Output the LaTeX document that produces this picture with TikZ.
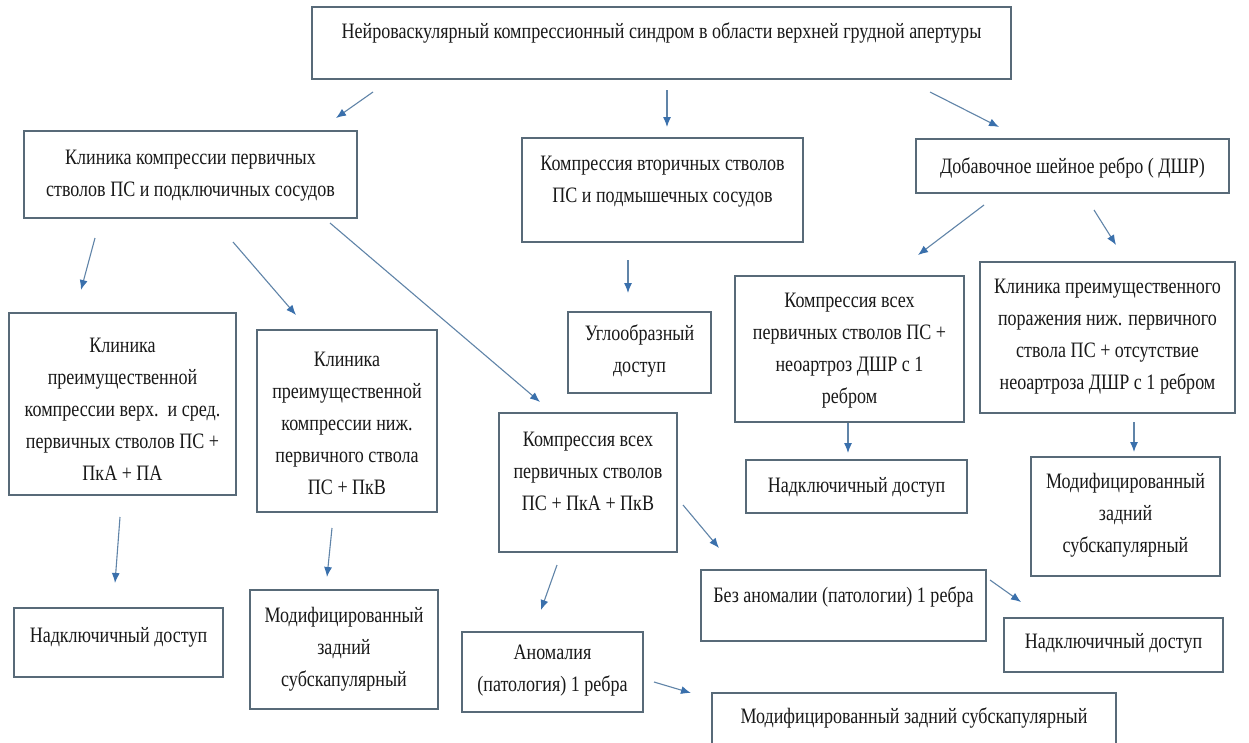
\documentclass[tikz,border=0pt]{standalone}
\usepackage{fontspec}
\setmainfont{Liberation Serif}[FakeStretch=0.82]
\usetikzlibrary{arrows.meta}

\definecolor{boxline}{RGB}{88,106,120}
\definecolor{arrowline}{RGB}{96,132,168}
\definecolor{arrowhead}{RGB}{58,112,172}

% \flowbox{name}{x1}{y1}{x2}{y2}{text centre y}{text}
\newcommand\flowbox[7]{%
  \node[flowrect, minimum width={(#4-#2)*1pt}, minimum height={(#5-#3)*1pt}]
    (#1) at ({(#2+#4)/2},{(#3+#5)/2}) {};
  \node[flowtext] (#1-t) at ({(#2+#4)/2},#6) {#7};
}
% \flowlink{name}{start}{end}
\newcommand\flowlink[3]{%
  \coordinate (#1-s) at (#2);
  \coordinate (#1-e) at (#3);
  \draw[flowarrow] (#1-s) -- (#1-e);
}

\begin{document}
\begin{tikzpicture}[x=1pt, y=-1pt,
  flowrect/.style={draw=boxline, line width=1.3pt, fill=white, inner sep=0pt, rectangle},
  flowtext/.style={align=center, inner sep=0pt, font=\fontsize{22}{32}\selectfont, text=black!90},
  flowarrow/.style={draw=arrowline, line width=1.1pt,
    -{Latex[length=10pt, width=8pt, color=arrowhead]}}]

\fill[white] (0,0) rectangle (1249,742);
\useasboundingbox (0,0) rectangle (1249,742);
\clip (0,0) rectangle (1249,742);

% first level
\flowbox{root}{312}{7}{1011}{79}{33}{Нейроваскулярный компрессионный синдром в области верхней грудной апертуры}

% second level
\flowbox{prim}{24}{131}{357}{218}{176}{Клиника компрессии первичных\\стволов ПС и подключичных сосудов}
\flowbox{sec}{522}{138}{803}{242}{182}{Компрессия вторичных стволов\\ПС и подмышечных сосудов}
\flowbox{rib}{916}{139}{1229}{193}{168}{Добавочное шейное ребро ( ДШР)}

% third level
\flowbox{upmid}{9}{313}{236}{495}{409}{Клиника\\преимущественной\\компрессии верх.\ \ и сред.\\первичных стволов ПС +\\ПкА + ПА}
\flowbox{low}{257}{330}{437}{512}{423}{Клиника\\преимущественной\\компрессии ниж.\\первичного ствола\\ПС + ПкВ}
\flowbox{angle}{568}{312}{711}{393}{351}{Углообразный\\доступ}
\flowbox{neo}{735}{276}{964}{422}{351}{Компрессия всех\\первичных стволов ПС +\\неоартроз ДШР с 1\\ребром}
\flowbox{noneo}{980}{262}{1235}{413}{337}{Клиника преимущественного\\поражения ниж. первичного\\ствола ПС + отсутствие\\неоартроза ДШР с 1 ребром}
\flowbox{all}{499}{413}{677}{552}{471}{Компрессия всех\\первичных стволов\\ПС + ПкА + ПкВ}

% access routes
\flowbox{supraA}{14}{608}{223}{677}{637}{Надключичный доступ}
\flowbox{subscA}{250}{590}{438}{709}{649}{Модифицированный\\задний\\субскапулярный}
\flowbox{anom}{462}{632}{643}{712}{671}{Аномалия\\(патология) 1 ребра}
\flowbox{supraB}{746}{460}{967}{513}{487}{Надключичный доступ}
\flowbox{subscB}{1031}{457}{1220}{576}{515}{Модифицированный\\задний\\субскапулярный}
\flowbox{noanom}{701}{570}{986}{641}{597}{Без аномалии (патологии) 1 ребра}
\flowbox{supraC}{1004}{618}{1223}{672}{643}{Надключичный доступ}
\flowbox{subscC}{712}{693}{1116}{760}{718}{Модифицированный задний субскапулярный}

% connectors
\flowlink{root-prim}{373,92}{336,118}
\flowlink{root-sec}{667,90}{667,127}
\flowlink{root-rib}{930,92}{999,127}
\flowlink{prim-upmid}{95,238}{81,290}
\flowlink{prim-low}{233,242}{296,315}
\flowlink{prim-all}{330,223}{540,402}
\flowlink{sec-angle}{628,260}{628,293}
\flowlink{rib-neo}{984,205}{918,255}
\flowlink{rib-noneo}{1094,210}{1116,245}
\flowlink{upmid-supraA}{120,517}{115,583}
\flowlink{low-subscA}{332,528}{327,577}
\flowlink{all-anom}{557,565}{541,610}
\flowlink{all-noanom}{683,505}{719,548}
\flowlink{neo-supraB}{848,423}{848,453}
\flowlink{noneo-subscB}{1134,422}{1134,452}
\flowlink{noanom-supraC}{990,580}{1021,602}
\flowlink{anom-subscC}{654,682}{691,693}

\end{tikzpicture}
\end{document}
